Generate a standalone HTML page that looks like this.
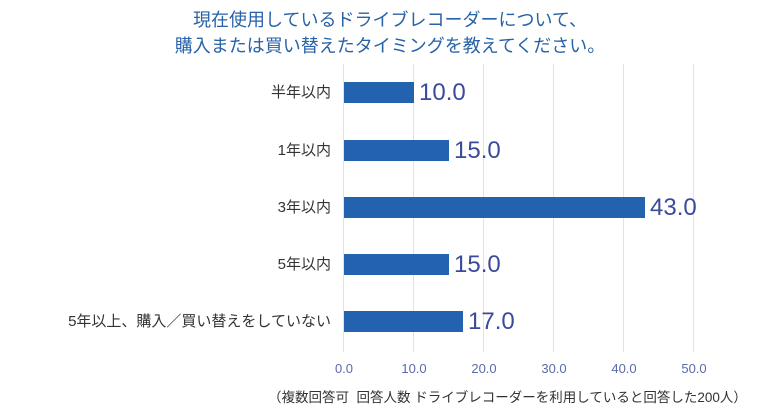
<!DOCTYPE html>
<html><head><meta charset="utf-8"><style>
body{margin:0;width:780px;height:414px;background:#fff;overflow:hidden;font-family:"Liberation Sans","Noto Sans CJK JP",sans-serif;position:relative}
.t{position:absolute;left:0;width:780px;text-align:center;color:#2862a8;font-size:18px;line-height:22px}
.g{position:absolute;top:64px;height:288px;width:1px;background:#dde2ee}
.bar{position:absolute;left:344px;height:21px;background:#2262ae}
.v{position:absolute;font-size:24px;color:#3b4a9c;line-height:24px}
.c{position:absolute;right:449px;font-size:15px;color:#333;line-height:16px;white-space:nowrap}
.x{position:absolute;top:361px;font-size:13px;color:#5a6aaa;width:40px;margin-left:-20px;text-align:center}
</style></head><body>
<div class="t" style="top:9px">現在使用しているドライブレコーダーについて、</div>
<div class="t" style="top:35px">購入または買い替えたタイミングを教えてください。</div>
<div class="g" style="left:343px"></div><div class="g" style="left:413px"></div><div class="g" style="left:483px"></div><div class="g" style="left:553px"></div><div class="g" style="left:623px"></div><div class="g" style="left:693px"></div>
<div class="bar" style="top:82px;width:70px"></div><div class="v" style="left:419px;top:81px">10.0</div>
<div class="bar" style="top:140px;width:105px"></div><div class="v" style="left:454px;top:139px">15.0</div>
<div class="bar" style="top:197px;width:301px"></div><div class="v" style="left:650px;top:196px">43.0</div>
<div class="bar" style="top:254px;width:105px"></div><div class="v" style="left:454px;top:253px">15.0</div>
<div class="bar" style="top:311px;width:119px"></div><div class="v" style="left:468px;top:310px">17.0</div>
<div class="c" style="top:85px">半年以内</div>
<div class="c" style="top:143px">1年以内</div>
<div class="c" style="top:200px">3年以内</div>
<div class="c" style="top:257px">5年以内</div>
<div class="c" style="top:314px">5年以上、購入／買い替えをしていない</div>
<div class="x" style="left:344px">0.0</div><div class="x" style="left:414px">10.0</div><div class="x" style="left:484px">20.0</div><div class="x" style="left:554px">30.0</div><div class="x" style="left:624px">40.0</div><div class="x" style="left:694px">50.0</div>
<div style="position:absolute;top:386px;left:268px;font-size:13.5px;color:#333;white-space:nowrap">（複数回答可&nbsp;&nbsp;回答人数 ドライブレコーダーを利用していると回答した200人）</div>
</body></html>
